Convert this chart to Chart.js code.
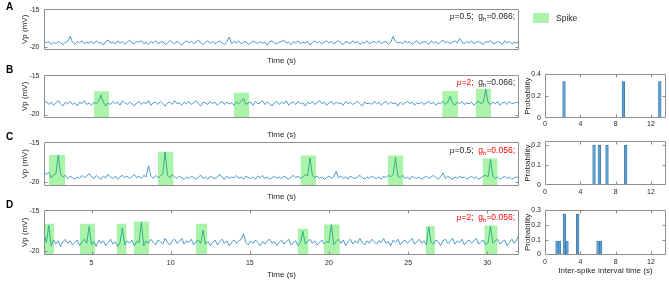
<!DOCTYPE html>
<html><head><meta charset="utf-8">
<script src="https://cdn.jsdelivr.net/npm/chart.js@4.4.0/dist/chart.umd.min.js"></script>
<style>
html,body{margin:0;padding:0;background:#fff;}
body{width:669px;height:282px;position:relative;overflow:hidden;font-family:"Liberation Sans",Arial,sans-serif;color:#262626;}
canvas{position:absolute;}
.letter{position:absolute;left:6px;font-weight:bold;font-size:10px;line-height:12px;color:#000;}
.ann{position:absolute;right:154px;font-size:8.5px;line-height:10px;white-space:nowrap;}
.ann i{font-family:"DejaVu Serif",serif;font-size:8px;}
.ann sub{font-size:6px;position:relative;top:2px;vertical-align:baseline;line-height:0;}
.r{color:#f00;}
.leg{position:absolute;left:533px;top:13px;width:16px;height:10px;background:rgb(170,245,170);}
.legt{position:absolute;left:556px;top:13px;font-size:8.5px;line-height:10px;}
</style></head>
<body>
<canvas id="cA"></canvas><canvas id="cB"></canvas><canvas id="cC"></canvas><canvas id="cD"></canvas>
<canvas id="hB"></canvas><canvas id="hC"></canvas><canvas id="hD"></canvas>
<div class="letter" style="top:1px">A</div>
<div class="letter" style="top:64px">B</div>
<div class="letter" style="top:131px">C</div>
<div class="letter" style="top:199px">D</div>
<div class="ann" style="top:11px"><i>μ</i>=0.5;&nbsp; g<sub>h</sub>=0.066;</div>
<div class="ann" style="top:77px"><span class="r"><i>μ</i>=2;</span>&nbsp; g<sub>h</sub>=0.066;</div>
<div class="ann" style="top:145px"><i>μ</i>=0.5;&nbsp; <span class="r">g<sub>h</sub>=0.056;</span></div>
<div class="ann" style="top:212px"><span class="r"><i>μ</i>=2;&nbsp; g<sub>h</sub>=0.056;</span></div>
<div class="leg"></div><div class="legt">Spike</div>
<script>
// ---- data ----
const T0 = 2, DT = 0.15; // sampling grid of the traces (s)
const traceA = [
-19.2,-19.5,-19.3,-19.7,-19.4,-19.6,-19.3,-19.5,-19.7,-19.4,-19.3,-18.6,-19.4,-19.7,-19.3,-19.5,-19.2,-19.6,-19.4,-19.5,
-19.3,-19.6,-19.2,-19.5,-19.4,-19.8,-19.3,-19.1,-19.5,-19.4,-19.6,-19.2,-19.5,-19.3,-19.7,-19.4,-19.1,-19.5,-19.6,-19.3,
-19.4,-19.2,-19.6,-19.4,-19.7,-19.3,-19.5,-19.2,-19.6,-19.4,-19.3,-19.7,-19.5,-19.2,-19.4,-19.6,-19.3,-19.5,-19.8,-19.4,
-19.2,-19.5,-19.3,-19.6,-19.4,-19.1,-19.5,-19.7,-19.4,-19.2,-19.5,-19.3,-19.6,-19.4,-19.2,-19.5,-19.7,-19.3,-18.7,-19.6,
-19.3,-19.5,-19.2,-19.6,-19.4,-19.3,-19.7,-19.5,-19.2,-19.4,-19.6,-19.3,-19.5,-19.4,-19.8,-19.3,-19.2,-19.5,-19.6,-19.4,
-19.3,-19.1,-19.5,-19.4,-19.7,-19.3,-19.5,-19.2,-19.6,-19.4,-19.5,-19.3,-19.8,-19.4,-19.2,-19.5,-19.3,-19.6,-19.4,-19.2,
-19.5,-19.3,-19.6,-19.4,-19.2,-19.5,-19.7,-19.3,-19.4,-19.6,-19.2,-19.5,-19.3,-19.7,-19.4,-19.5,-19.2,-19.6,-19.4,-19.3,
-19.5,-19.2,-19.6,-19.4,-19.3,-19.7,-19.4,-18.6,-19.3,-19.5,-19.4,-19.6,-19.2,-19.5,-19.3,-19.7,-19.4,-19.2,-19.6,-19.5,
-19.3,-19.4,-19.7,-19.2,-19.5,-19.3,-19.6,-19.4,-19.1,-19.5,-19.3,-19.6,-19.4,-19.2,-19.5,-18.9,-19.4,-19.6,-19.3,-19.5,
-19.2,-19.6,-19.4,-19.3,-19.5,-19.7,-19.3,-19.4,-19.2,-19.6,-19.5,-19.3,-19.4,-19.7,-19.2,-19.5,-19.3,-19.6,-19.4,-19.5,
-19.3];
const traceB = [
-18.6,-18.3,-18.7,-18.4,-18.8,-18.5,-18.2,-18.6,-18.9,-18.4,-18.6,-18.3,-18.7,-18.5,-18.9,-18.4,-18.6,-18.2,-18.7,-18.5,
-18.8,-18.4,-18.6,-18.3,-17.5,-18.4,-18.9,-18.5,-18.7,-18.3,-18.6,-18.4,-18.8,-18.2,-18.5,-18.7,-18.4,-18.6,-18.9,-18.5,
-18.3,-18.7,-18.4,-18.6,-18.2,-18.8,-18.5,-18.4,-18.7,-18.3,-18.6,-18.9,-18.5,-18.4,-18.7,-18.2,-18.6,-18.5,-18.8,-18.4,
-18.6,-18.3,-18.7,-18.5,-18.2,-18.6,-18.9,-18.4,-18.5,-18.7,-18.3,-18.6,-18.4,-18.8,-18.5,-18.3,-18.7,-18.4,-18.6,-18.5,
-18.8,-18.4,-18.6,-18.3,-17.9,-18.7,-18.5,-18.4,-18.8,-18.3,-18.6,-18.5,-18.2,-18.7,-18.4,-18.6,-18.9,-18.5,-18.3,-18.7,
-18.4,-18.6,-18.2,-18.8,-18.5,-18.4,-18.7,-18.3,-18.6,-18.5,-18.9,-18.4,-18.6,-18.3,-18.7,-18.5,-18.2,-18.6,-18.4,-18.8,
-18.5,-18.3,-18.7,-18.4,-18.6,-18.5,-18.8,-18.3,-18.6,-18.4,-18.7,-18.5,-18.3,-18.6,-18.9,-18.4,-18.6,-18.5,-18.7,-18.3,
-18.6,-18.4,-18.8,-18.5,-18.3,-18.7,-18.4,-18.6,-18.5,-18.9,-18.4,-18.7,-18.5,-18.3,-18.6,-18.4,-18.8,-18.5,-18.6,-18.4,
-18.7,-18.5,-18.3,-18.6,-18.4,-18.8,-18.5,-18.6,-18.3,-18.7,-18.4,-17.65,-18.5,-18.8,-18.4,-18.6,-18.3,-18.7,-18.5,-18.6,
-18.4,-18.8,-18.5,-18.3,-18.6,-18.4,-16.75,-18.5,-18.7,-18.4,-18.6,-18.3,-18.8,-18.5,-18.4,-18.7,-18.3,-18.6,-18.5,-18.4,
-18.6];
const traceC = [
-18.6,-19.0,-18.7,-19.4,-19.1,-18.9,-16.55,-19.0,-19.3,-19.1,-19.5,-19.2,-19.4,-19.6,-19.3,-19.5,-19.1,-19.4,-19.2,-18.9,
-19.3,-19.5,-19.1,-19.4,-19.6,-19.2,-19.4,-19.0,-19.3,-19.5,-19.2,-19.6,-19.3,-19.1,-19.4,-19.2,-19.5,-19.3,-19.0,-19.4,
-19.2,-19.5,-19.1,-19.3,-17.9,-19.2,-19.5,-19.1,-19.4,-19.2,-18.9,-16.15,-19.1,-19.4,-19.0,-19.3,-19.5,-19.2,-19.4,-19.6,
-19.3,-19.5,-19.2,-19.4,-19.6,-19.3,-19.1,-19.5,-19.3,-19.6,-19.2,-19.4,-19.5,-19.3,-19.0,-19.4,-19.6,-19.2,-19.5,-19.3,
-19.4,-19.1,-19.5,-19.3,-19.6,-19.2,-19.4,-19.5,-19.3,-19.6,-19.2,-19.4,-19.1,-19.5,-19.3,-19.6,-19.4,-19.2,-19.5,-19.3,
-19.5,-19.2,-19.4,-19.6,-19.3,-19.1,-19.4,-19.2,-19.5,-19.3,-19.0,-19.2,-16.9,-19.1,-19.4,-19.2,-19.5,-19.3,-19.6,-19.4,
-19.2,-19.5,-19.3,-18.6,-19.4,-19.2,-19.5,-19.3,-19.6,-19.2,-19.4,-19.5,-19.3,-19.1,-19.4,-19.6,-19.3,-19.5,-19.2,-19.4,
-19.5,-19.3,-19.6,-19.2,-19.4,-19.1,-19.3,-19.0,-16.85,-19.2,-19.4,-19.1,-19.5,-19.3,-19.6,-19.2,-19.4,-19.5,-19.3,-19.6,
-19.4,-19.2,-19.5,-19.3,-19.1,-19.4,-19.6,-19.3,-18.8,-19.5,-19.2,-19.4,-19.6,-19.3,-19.5,-19.2,-19.4,-19.3,-19.6,-19.4,
-19.2,-19.5,-19.3,-19.6,-19.4,-19.2,-19.1,-19.3,-17.1,-19.2,-19.5,-19.3,-19.6,-19.4,-19.2,-19.5,-19.3,-19.6,-19.4,-19.3,
-19.5];
const traceD = [
-17.8,-18.9,-16.8,-19.3,-18.6,-19.1,-18.7,-19.4,-18.8,-18.5,-19.0,-18.7,-19.2,-18.9,-18.6,-19.3,-18.8,-18.5,-19.0,-16.9,
-19.2,-18.8,-19.4,-18.6,-19.0,-18.7,-19.3,-18.9,-18.5,-19.1,-18.8,-19.4,-18.9,-17.1,-19.2,-18.7,-19.0,-18.6,-19.3,-18.8,
-18.9,-16.4,-19.3,-18.7,-19.0,-18.5,-18.9,-19.2,-18.6,-18.8,-19.1,-18.4,-18.9,-19.2,-18.7,-18.5,-19.0,-18.8,-18.4,-19.1,
-18.7,-18.9,-18.5,-19.2,-18.8,-18.6,-19.0,-17.4,-19.1,-18.8,-19.3,-18.9,-18.6,-19.2,-18.8,-18.5,-19.0,-18.7,-19.3,-18.9,
-18.6,-19.0,-18.7,-18.5,-17.8,-18.9,-19.2,-18.7,-19.0,-18.6,-18.9,-19.3,-18.8,-19.1,-18.7,-18.5,-19.0,-18.8,-19.3,-18.9,
-18.6,-19.1,-18.8,-18.5,-19.2,-18.9,-18.7,-19.3,-18.9,-17.5,-19.1,-18.8,-18.5,-19.0,-18.7,-19.2,-18.9,-18.6,-19.1,-18.8,
-18.9,-16.7,-19.2,-18.8,-18.5,-19.0,-18.6,-19.3,-18.8,-18.5,-19.1,-18.7,-19.0,-18.4,-18.9,-19.2,-18.7,-19.0,-18.5,-18.8,
-19.1,-18.7,-18.9,-18.4,-19.0,-18.8,-19.3,-18.6,-18.9,-18.5,-19.2,-18.8,-18.6,-19.0,-18.7,-18.4,-19.1,-18.8,-18.5,-19.0,
-18.7,-19.2,-17.0,-18.9,-19.1,-18.6,-18.8,-19.3,-18.7,-18.5,-19.0,-18.8,-18.4,-19.1,-18.7,-18.9,-18.5,-19.2,-18.8,-18.6,
-19.0,-18.7,-18.4,-19.1,-18.8,-18.6,-19.2,-18.9,-16.9,-19.0,-18.7,-18.5,-19.1,-18.8,-18.6,-19.3,-18.9,-18.5,-19.0,-18.6,
-17.9];
// spike windows (s) and their heights (mV)
const spikeStartB = [5.15, 14.0, 27.15, 29.26];
const spikeEndB   = [6.12, 14.96, 28.15, 30.23];
const spikeTopB   = [-17.0, -17.17, -16.97, -16.66];
const spikeStartC = [2.3, 9.2, 18.2, 23.7, 29.7];
const spikeEndC   = [3.33, 10.19, 19.18, 24.7, 30.65];
const spikeTopC   = [-16.54, -16.12, -16.58, -16.58, -16.96];
const spikeStartD = [2.0, 4.26, 6.58, 7.66, 11.58, 18.02, 19.68, 26.1, 29.81];
const spikeEndD   = [2.64, 5.23, 7.22, 8.65, 12.32, 18.71, 20.68, 26.69, 30.65];
const spikeTopD   = [-16.59, -16.59, -16.59, -16.31, -16.59, -17.2, -16.68, -16.88, -16.8];
// inter-spike interval histograms
const isiB = [2.15, 8.87, 13.0];
const probB = [0.333, 0.333, 0.333];
const isiC = [5.55, 6.15, 7.02, 9.14];
const probC = [0.2, 0.2, 0.2, 0.2];
const isiD = [1.36, 1.62, 2.19, 2.49, 3.7, 6.0, 6.3];
const probD = [0.091, 0.091, 0.273, 0.091, 0.273, 0.091, 0.091];
// ticks
const vTicks = [-20, -15];
const timeTicks = [5, 10, 15, 20, 25, 30];
const isiTicks = [0, 4, 8, 12];
const probTicksB = [0, 0.2, 0.4];
const probTicksC = [0, 0.1, 0.2];
const probTicksD = [0, 0.1, 0.2, 0.3];

// ---- drawing ----
const TRACE = '#3a8fc8';
const GREEN = 'rgba(0,220,0,0.33)';
Chart.defaults.font.family = '"Liberation Sans", Arial, sans-serif';
Chart.defaults.color = '#262626';

const boxPlugin = {
  id: 'mbox',
  afterDatasetsDraw(chart, args, o) {
    const {ctx, chartArea: a} = chart;
    const L = Math.round(a.left) + 0.5, R = Math.round(a.right) - 0.5;
    const T = Math.round(a.top) + 0.5, B = Math.round(a.bottom) - 0.5;
    ctx.save();
    ctx.strokeStyle = '#8f8f8f'; ctx.lineWidth = 1;
    ctx.beginPath(); ctx.rect(L, T, R - L, B - T); ctx.stroke();
    const len = 3;
    ctx.beginPath();
    if (o.xTicks) chart.scales.x.ticks.forEach(t => {
      const p = Math.round(chart.scales.x.getPixelForValue(t.value)) + 0.5;
      if (p <= L + 1 || p >= R - 1) return;
      ctx.moveTo(p, B); ctx.lineTo(p, B - len); ctx.moveTo(p, T); ctx.lineTo(p, T + len);
    });
    if (o.yTicks) chart.scales.y.ticks.forEach(t => {
      const p = Math.round(chart.scales.y.getPixelForValue(t.value)) + 0.5;
      if (p <= T + 1 || p >= B - 1) return;
      ctx.moveTo(L, p); ctx.lineTo(L + len, p); ctx.moveTo(R, p); ctx.lineTo(R - len, p);
    });
    ctx.stroke(); ctx.restore();
  }
};
Chart.register(boxPlugin);

function setupCanvas(id, x0, y0, w, h) {
  const c = document.getElementById(id);
  c.width = w; c.height = h;
  c.style.left = x0 + 'px'; c.style.top = y0 + 'px';
  c.style.width = w + 'px'; c.style.height = h + 'px';
  return c;
}

function timeChart(id, plot, values, bs, be, bt, showX, xTitleY) {
  const x0 = 0, y0 = Math.max(0, Math.floor(plot.t - 8)), w = plot.r + 10;
  const h = Math.ceil(xTitleY + 7) - y0;
  const c = setupCanvas(id, x0, y0, w, h);
  const datasets = [{
    data: values.map((v, i) => ({x: T0 + i * DT, y: v})),
    borderColor: TRACE, borderWidth: 0.9, pointRadius: 0, tension: 0, fill: false, order: 1
  }];
  bs.forEach((s, k) => datasets.push({
    data: [{x: s, y: bt[k]}, {x: be[k], y: bt[k]}],
    borderWidth: 0, borderColor: 'rgba(0,0,0,0)', pointRadius: 0, fill: 'start', backgroundColor: GREEN, order: 0
  }));
  return new Chart(c, {
    type: 'line',
    data: {datasets},
    options: {
      responsive: false, devicePixelRatio: 1, animation: false, events: [],
      layout: {padding: {left: 0, top: plot.t - y0, right: w - plot.r, bottom: 0}},
      plugins: {legend: {display: false}, tooltip: {enabled: false}, mbox: {xTicks: showX, yTicks: true}},
      scales: {
        x: {
          type: 'linear', min: 2, max: 32,
          grid: {display: false, drawTicks: false}, border: {display: false},
          afterBuildTicks: s => { s.ticks = timeTicks.map(v => ({value: v})); },
          ticks: {display: showX, padding: 3.5, font: {size: 7}, callback: v => String(v)},
          afterFit: s => { s.height = y0 + h - plot.b; },
          title: {display: true, text: 'Time (s)', font: {size: 8}, padding: {top: 0, bottom: (y0 + h) - xTitleY - 4.8}}
        },
        y: {
          min: -20.45, max: -14.85,
          grid: {display: false, drawTicks: false}, border: {display: false},
          afterBuildTicks: s => { s.ticks = vTicks.map(v => ({value: v})); },
          ticks: {padding: 4.5, font: {size: 7}, callback: v => String(v)},
          afterFit: s => { s.width = plot.l - x0; },
          title: {display: true, text: 'Vp (mV)', font: {size: 8}, padding: {top: 25 - x0 - 4.8, bottom: 0}}
        }
      }
    }
  });
}

function histChart(id, plot, xs, ys, yMax, yTicks, labelY, titleY) {
  const x0 = 520, y0 = Math.floor(plot.t - 8), w = 669 - x0;
  const h = Math.ceil((titleY || labelY) + 7) - y0;
  const c = setupCanvas(id, x0, y0, w, h);
  return new Chart(c, {
    type: 'bar',
    data: {datasets: [{
      data: xs.map((x, i) => ({x: x, y: ys[i]})),
      backgroundColor: '#5a9fd2', borderColor: '#2f6690', borderWidth: 0.6, barThickness: 2.6
    }]},
    options: {
      responsive: false, devicePixelRatio: 1, animation: false, events: [],
      layout: {padding: {left: 0, top: plot.t - y0, right: w - (plot.r - x0), bottom: 0}},
      plugins: {legend: {display: false}, tooltip: {enabled: false}, mbox: {xTicks: true, yTicks: true}},
      scales: {
        x: {
          type: 'linear', offset: false, min: 0, max: 13.7,
          grid: {display: false, drawTicks: false, offset: false}, border: {display: false},
          afterBuildTicks: s => { s.ticks = isiTicks.map(v => ({value: v})); },
          ticks: {padding: labelY - plot.b - 4.2, font: {size: 7}, callback: v => String(v)},
          afterFit: s => { s.height = y0 + h - plot.b; },
          title: {display: !!titleY, text: 'Inter-spike interval time (s)', font: {size: 8},
                  padding: {top: 0, bottom: titleY ? (y0 + h) - titleY - 4.8 : 0}}
        },
        y: {
          min: 0, max: yMax,
          grid: {display: false, drawTicks: false}, border: {display: false},
          afterBuildTicks: s => { s.ticks = yTicks.map(v => ({value: v})); },
          ticks: {padding: 4, font: {size: 7}, callback: v => String(v)},
          afterFit: s => { s.width = plot.l - x0; },
          title: {display: true, text: 'Probability', font: {size: 8}, padding: {top: 528 - x0 - 4.8, bottom: 0}}
        }
      }
    }
  });
}

timeChart('cA', {l: 44, r: 519, t: 6, b: 50}, traceA, [], [], [], false, 60.7);
timeChart('cB', {l: 44, r: 519, t: 74, b: 118}, traceB, spikeStartB, spikeEndB, spikeTopB, false, 135);
timeChart('cC', {l: 44, r: 519, t: 141, b: 186}, traceC, spikeStartC, spikeEndC, spikeTopC, false, 197);
timeChart('cD', {l: 44, r: 519, t: 209, b: 255}, traceD, spikeStartD, spikeEndD, spikeTopD, true, 274.3);
histChart('hB', {l: 545, r: 666, t: 74, b: 118}, isiB, probB, 0.4, probTicksB, 124.5, null);
histChart('hC', {l: 545, r: 666, t: 141, b: 185}, isiC, probC, 0.22, probTicksC, 191.7, null);
histChart('hD', {l: 545, r: 666, t: 210, b: 254.5}, isiD, probD, 0.3, probTicksD, 261.7, 270.7);
</script>
</body></html>
